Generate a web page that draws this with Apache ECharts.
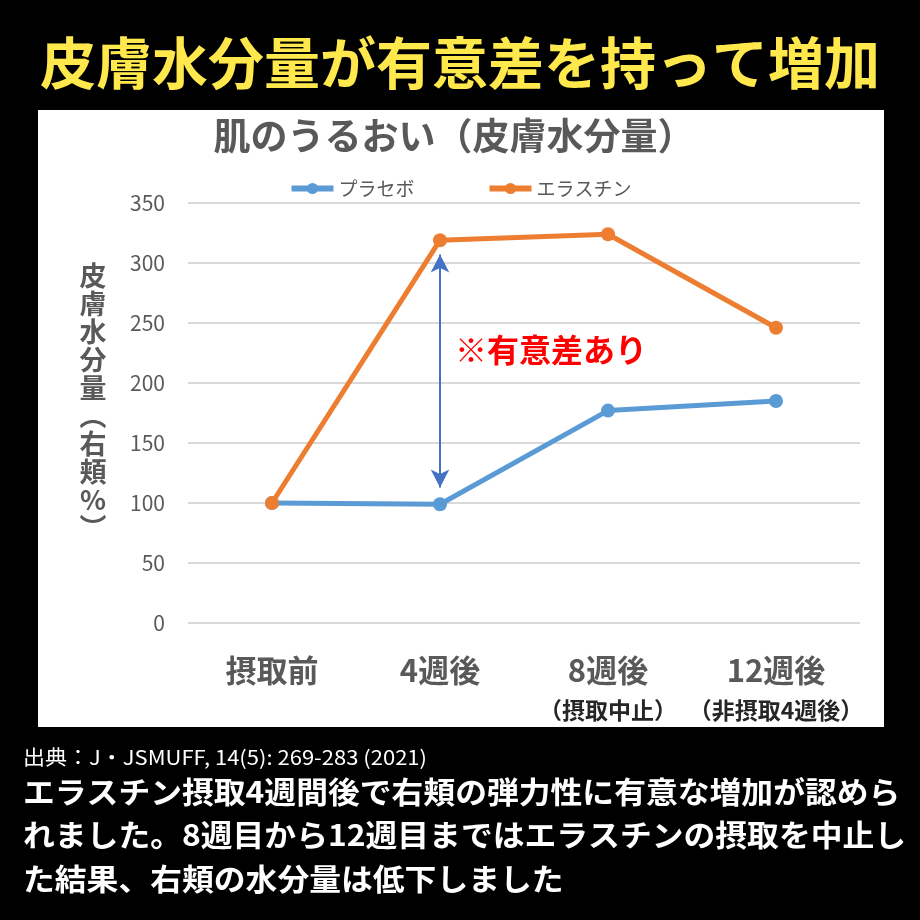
<!DOCTYPE html>
<html lang="ja">
<head>
<meta charset="UTF-8">
<title>皮膚水分量</title>
<script src="https://cdn.jsdelivr.net/npm/echarts@6/dist/echarts.min.js"></script>
<style>
  html, body { margin: 0; padding: 0; background: #000; }
</style>
</head>
<body>
<div id="main" style="width:920px; height:920px"></div>
<script type="text/javascript">
    // データ
    var categories = ['摂取前', '4週後', '8週後', '12週後'];
    var subLabels = ['', '', '（摂取中止）', '（非摂取4週後）'];
    var placebo = [100, 99, 177, 185];      // プラセボ
    var elastin = [100, 319, 324, 246];     // エラスチン
    var yMin = 0, yMax = 350, yStep = 50;
    var arrowFrom = 307, arrowTo = 113;     // 有意差の矢印 (4週後)

    var JP = '"Noto Sans CJK JP", "Noto Sans", sans-serif';
    var myChart = echarts.init(document.getElementById('main'));

    var bottomText = [
        'エラスチン摂取4週間後で右頬の弾力性に有意な増加が認めら',
        'れました。8週目から12週目まではエラスチンの摂取を中止し',
        'た結果、右頬の水分量は低下しました'
    ];

    // 横に少し広げたテキスト
    function wideText(x, y, text, font, fill, sx) {
        return { type: 'text', x: x, y: y, scaleX: sx, originX: 0, originY: 0,
            style: { x: 0, y: 0, text: text, fill: fill, font: font, align: 'left', verticalAlign: 'middle' } };
    }

    myChart.setOption({
        backgroundColor: '#000',
        textStyle: { fontFamily: JP },
        graphic: [
            // 白いパネル
            { type: 'rect', z: -10, shape: { x: 38, y: 110, width: 846, height: 617 }, style: { fill: '#fff' } },
            { type: 'text', style: { x: 460, y: 63, text: '皮膚水分量が有意差を持って増加', fill: '#FFE84C',
                font: 'bold 56px ' + JP, align: 'center', verticalAlign: 'middle' } },
            { type: 'text', style: { x: 454, y: 136, text: '肌のうるおい（皮膚水分量）', fill: '#595959',
                font: 'bold 37px ' + JP, align: 'center', verticalAlign: 'middle' } },
            // 縦書きの軸名
            { type: 'text', style: { x: 93, y: 402, text: '皮\n膚\n水\n分\n量\n︵\n右\n頬\n%\n︶', fill: '#595959',
                font: 'bold 27px ' + JP, lineHeight: 28, align: 'center', verticalAlign: 'middle' } },
            { type: 'text', style: { x: 455, y: 350, text: '※有意差あり', fill: '#FF0000',
                font: 'bold 32px ' + JP, align: 'left', verticalAlign: 'middle' } },
            wideText(23, 757, '出典：J・JSMUFF, 14(5): 269-283 (2021)', '20px ' + JP, '#fff', 1.1),
            wideText(23, 792, bottomText[0], 'bold 30px ' + JP, '#fff', 1.06),
            wideText(23, 835, bottomText[1], 'bold 30px ' + JP, '#fff', 1.06),
            wideText(23, 879, bottomText[2], 'bold 30px ' + JP, '#fff', 1.06)
        ],
        legend: {
            top: 174,
            left: 'center',
            itemWidth: 42,
            itemHeight: 14,
            itemGap: 72,
            lineStyle: { width: 6 },
            textStyle: { color: '#595959', fontSize: 19 },
            data: ['プラセボ', 'エラスチン']
        },
        grid: { left: 188, right: 60, top: 203, bottom: 297 },
        xAxis: {
            type: 'category',
            data: categories,
            axisLine: { show: false },
            axisTick: { show: false },
            axisLabel: {
                margin: 27,
                formatter: function (v, i) {
                    var s = subLabels[i];
                    return s ? '{main|' + v + '}\n{sub|' + s + '}' : '{main|' + v + '}';
                },
                rich: {
                    main: { fontSize: 31, fontWeight: 'bold', color: '#595959', lineHeight: 40 },
                    sub: { fontSize: 23, fontWeight: 'bold', color: '#262626', lineHeight: 40 }
                }
            }
        },
        yAxis: {
            type: 'value',
            min: yMin,
            max: yMax,
            interval: yStep,
            axisLine: { show: false },
            axisTick: { show: false },
            axisLabel: { color: '#595959', fontSize: 21, margin: 23 },
            splitLine: { lineStyle: { color: '#d9d9d9', width: 2 } }
        },
        series: [
            {
                name: 'プラセボ',
                type: 'line',
                data: placebo,
                color: '#5B9BD5',
                symbol: 'circle',
                symbolSize: 14,
                lineStyle: { width: 5 },
                markLine: {
                    silent: true,
                    symbol: ['arrow', 'arrow'],
                    symbolSize: [14, 18],
                    label: { show: false },
                    lineStyle: { color: '#4472C4', width: 2, type: 'solid' },
                    data: [[{ coord: [categories[1], arrowFrom] }, { coord: [categories[1], arrowTo] }]]
                }
            },
            {
                name: 'エラスチン',
                type: 'line',
                data: elastin,
                color: '#ED7D31',
                symbol: 'circle',
                symbolSize: 14,
                lineStyle: { width: 5 }
            }
        ]
    });
</script>
</body>
</html>
